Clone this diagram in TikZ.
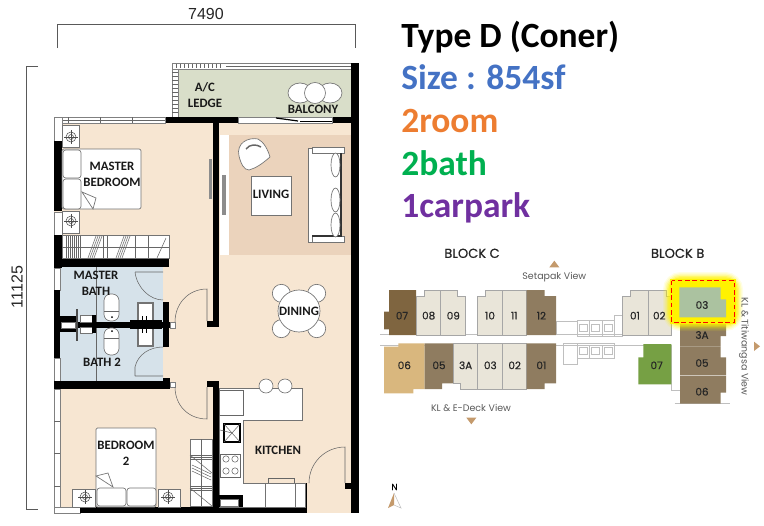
\documentclass[tikz,border=0pt]{standalone}
\usepackage{xcolor}
\usepackage{fontspec}
\setmainfont{Carlito}
\newfontfamily\dimfont{Liberation Sans}
\newfontfamily\mapfont{Poppins}
\newfontfamily\mapboldfont[FakeBold=0.6]{Poppins}
\usetikzlibrary{positioning,calc}

\definecolor{floorcol}{HTML}{F7E6D2}
\definecolor{rugcol}{HTML}{EBD3BC}
\definecolor{bathcol}{HTML}{D6E2EA}
\definecolor{balconycol}{HTML}{D9DEC9}
\definecolor{ltunit}{HTML}{E9E5D9}
\definecolor{midunit}{HTML}{8F7C60}
\definecolor{darkunit}{HTML}{7F6540}
\definecolor{sandunit}{HTML}{D9B77E}
\definecolor{greenunit}{HTML}{76A044}
\definecolor{sageunit}{HTML}{ABC2A0}
\definecolor{viewcol}{HTML}{C49A6C}

\tikzset{
    wall/.style={fill=black},
    fixture/.style={draw=black!55, fill=white, line width=0.5pt},
    thinline/.style={draw=black!60, line width=0.4pt},
    windowbar/.style={draw=black!50, fill=white, line width=0.4pt},
    roomlabel/.style={font=\bfseries\fontsize{9.6}{12}\selectfont, align=center, inner sep=0pt, text=black!90},
    dimlabel/.style={font=\dimfont\fontsize{12}{14}\selectfont, inner sep=0pt, text=black!85},
    dimline/.style={draw=black!65, line width=0.6pt},
    titlelabel/.style={font=\bfseries\fontsize{26.6}{30}\selectfont, anchor=base west, inner sep=0pt},
    blocklabel/.style={font=\mapboldfont\fontsize{9.8}{11}\selectfont, inner sep=0pt, text=black!85},
    unitlabel/.style={font=\mapboldfont\fontsize{7.8}{9}\selectfont, inner sep=0pt, text=black!85},
    viewlabel/.style={font=\mapfont\fontsize{7.1}{8}\selectfont, inner sep=0pt, text=black!65},
    unitedge/.style={draw=black!35, line width=0.4pt},
    mapline/.style={draw=black!25, line width=0.5pt}
}

\begin{document}
\begin{tikzpicture}[x=0.75pt,y=-0.75pt]
    \useasboundingbox (0,0) rectangle (764,525);

    % dimensions
    \draw[dimline] (57,48) -- (57,24) -- (355,24) -- (355,48);
    \draw[dimline] (38,66) -- (26,66) -- (26,509) -- (38,509);
    \node (widthlabel) [dimlabel] at (206,14) {7490};
    \node (depthlabel) [dimlabel, rotate=90] at (17,287) {11125};

    % floors
    \fill[balconycol] (172,63) rectangle (351,117);
    \fill[floorcol] (54,117) rectangle (351,513);
    \fill[rugcol] (229,135) rectangle (351,255);
    \fill[white] (220,135) rectangle (229,255);
    \fill[bathcol] (60,267) rectangle (163,381);
    \draw[thinline] (96,267) -- (96,381);

    % balcony railings
    \draw[windowbar] (172,63) rectangle (351,69);
    \draw[thinline] (226,66) -- (351,66);
    \foreach \x in {176,180,...,222} \draw[thinline] (\x,64) -- (\x,68);
    \draw[windowbar] (172,69) rectangle (178,117);
    \foreach \y in {72,76,...,114} \draw[thinline] (172,\y) -- (178,\y);

    % outer walls
    \fill[wall] (165,117) rectangle (238,123);
    \fill[wall] (298,117) rectangle (351,123);
    \draw[windowbar] (238,117) rectangle (332,123);
    \draw[black, line width=0.9pt] (276,118) -- (298,121);
    \draw[black, line width=0.9pt] (300,121.5) -- (332,121.5);
    \draw[windowbar] (54,117) rectangle (165,123);
    \draw[thinline] (60,120) -- (165,120);
    \foreach \x in {68,100,132} \draw[thinline] (\x,117) -- (\x,123);
    \draw[windowbar] (54,117) rectangle (62,141);
    \fill[wall] (54,141) rectangle (62,211);
    \draw[windowbar] (54,212) rectangle (62,235);
    \fill[wall] (54,235) rectangle (62,268);
    \draw[windowbar] (54,268) rectangle (60,290);
    \fill[wall] (54,290) rectangle (60,322);
    \fill[wall] (54,328) rectangle (60,358);
    \draw[windowbar] (54,358) rectangle (60,381);
    \draw[windowbar] (54,389) rectangle (60,510);
    \foreach \y in {421,453,486} \draw[thinline] (54,\y) -- (60,\y);
    \draw[windowbar] (54,507) rectangle (80,513);
    \fill[wall] (80,507) rectangle (303,513);

    % inner walls
    \fill[wall] (213,123) rectangle (219,327);
    \fill[wall] (207,321) rectangle (219,327);
    \fill[wall] (213,381) rectangle (219,513);
    \fill[wall] (207,381) rectangle (219,387);
    \fill[wall] (54,258) rectangle (169,267);
    \fill[wall] (54,381) rectangle (169,389);
    \fill[wall] (54,322) rectangle (173,328);
    \fill[wall] (163,378) rectangle (170,389);
    \fill[wall] (296,483) rectangle (307,513);
    \fill[wall] (345,483) rectangle (351,489);
    \draw[windowbar] (170,382) rectangle (175,387);
    \draw[windowbar] (170,322) rectangle (175,328);

    % doors
    \draw[thinline] (135,272) -- (163,272) (135,272) .. controls (137,288) and (150,300) .. (163,300);
    \draw[thinline] (135,376) -- (163,376) (135,376) -- (135,367) .. controls (138,354) and (150,347) .. (163,347);
    \draw[thinline] (175,322) .. controls (175,304) and (188,289) .. (207,289) -- (207,321);
    \draw[thinline] (175,387) .. controls (175,405) and (188,419) .. (207,419) -- (207,387);
    \draw[thinline] (309,483) .. controls (309,463) and (325,447) .. (345,447) -- (345,483);

    % master bedroom
    \draw[fixture, rounded corners=1.5pt] (62,149) rectangle (141,209);
    \draw[fixture, rounded corners=2pt] (63,150) rectangle (81,178);
    \draw[fixture, rounded corners=2pt] (63,179) rectangle (81,209);
    \draw[fixture] (82,192) -- (96,198) -- (93,209) -- cycle;
    \draw[fixture] (62,125) rectangle (79,147);
    \draw[fixture] (62,211) rectangle (79,233);
    \draw[fixture] (72,489) rectangle (95,507);
    \draw[fixture] (158,489) rectangle (180,507);
    \foreach \cx/\cy in {71/137, 71/221, 85/497, 168/497} {
        \draw[draw=black!70, line width=0.4pt] (\cx,\cy) circle[radius=5];
        \draw[draw=black!70, line width=0.4pt] (\cx,\cy) circle[radius=2.5];
        \draw[draw=black!70, line width=0.4pt] (\cx-7,\cy) -- (\cx+7,\cy) (\cx,\cy-7) -- (\cx,\cy+7);
    }

    % master wardrobe
    \draw[fixture] (62,235) rectangle (169,258);
    \foreach \x in {66,68,...,80} \draw[thinline] (\x,236) -- (\x,258);
    \foreach \x in {88,90,92,94} \draw[thinline] (\x,258) -- (\x+8,236);
    \foreach \x in {116,118,120,122} \draw[thinline] (\x,258) -- (\x+8,236);
    \foreach \x in {103,107,135,148} \draw[thinline] (\x,236) -- (\x,258);
    \draw[thinline] (157,258) -- (166,238);
    \draw[thinline] (62,247) -- (169,247);

    % living
    \draw[fixture] (251,176) rectangle (291,215);
    \draw[fixture] (308,148) rectangle (341,242);
    \draw[fixture] (312,147) rectangle (344,153);
    \draw[fixture] (312,236) rectangle (344,242);
    \draw[black!80, line width=0.9pt] (312,236) -- (341,236) -- (341,153);
    \foreach \cy in {165,200,225} \draw[fixture] (335.5,\cy) ellipse[x radius=4.5, y radius=12];
    \draw[fixture] (239,156) .. controls (236,143) and (248,137) .. (258,139) .. controls (264,142) and (268,150) .. (270,157) .. controls (262,164) and (256,168) .. (249,170) .. controls (244,170) and (241,164) .. (239,156) -- cycle;
    \draw[black!60, line width=1.1pt] (246,149) .. controls (250,144) and (256,144) .. (261,147);
    \fill[black!45] (209,159) rectangle (212,199);
    \fill[black!45] (222,175) rectangle (226,215);

    % balcony chairs
    \draw[fixture] (300,93) ellipse[x radius=12, y radius=10];
    \draw[fixture] (330,93) ellipse[x radius=12, y radius=10];
    \draw[fixture] (315,93) circle[radius=10.5];

    % dining
    \foreach \ang in {45,135,225,315} \draw[fixture] ($(299,311)+(\ang:25)$) circle[radius=9];
    \draw[fixture] (299,311) circle[radius=21];

    % kitchen
    \draw[fixture] (219,388) -- (302,388) -- (302,420) -- (243,420) -- (243,483) -- (305,483) -- (305,507) -- (219,507) -- cycle;
    \draw[thinline] (219,390) rectangle (243,415);
    \draw[fixture] (265,483) rectangle (295,507);
    \draw[thinline] (268,478) -- (294,478) -- (294,483) (268,478) -- (268,483);
    \foreach \cx in {266,285} \draw[fixture] (\cx,386) circle[radius=7];
    \draw[draw=black, fill=white, line width=0.9pt] (224,424) rectangle (240,442);
    \draw[thinline] (224,424) -- (240,442) (224,442) -- (240,424);
    \draw[thinline] (220,430) -- (232,433);
    \draw[thinline] (220,454) rectangle (240,477);
    \foreach \cx/\cy in {226/459, 235/459, 226/471, 235/471} \draw[thinline] (\cx,\cy) circle[radius=3.2];
    \fill[wall] (219,495) rectangle (243,507);
    \draw[fixture] (220,499) rectangle (238,506);

    % bathrooms
    \draw[fixture, rounded corners=5pt] (104,294) rectangle (119,321);
    \draw[fixture, rounded corners=5pt] (104,328) rectangle (119,355);
    \fill (112,317) circle[radius=1] (112,331) circle[radius=1];
    \draw[thinline] (104,311) -- (119,311) (104,338) -- (119,338);
    \draw[draw=black!55, fill=white, line width=1pt] (138,303) rectangle (153,321);
    \draw[draw=black!55, fill=white, line width=1pt] (138,328) rectangle (153,346);
    \fill[wall] (130,320) rectangle (162,329);
    \foreach \x in {142,146} \draw[black, line width=0.5pt] (\x,316) -- (\x,333);
    \fill[wall] (54,316) rectangle (76,332);
    \draw[fixture] (61,322) rectangle (75,328);
    \draw[fixture] (80,315) rectangle (92,322);
    \draw[fixture] (80,327) rectangle (92,333);
    \fill[wall] (92,315) rectangle (96,333);
    \draw[black!70, line width=0.8pt] (77,309) -- (77,341);

    % bedroom 2
    \draw[fixture, rounded corners=1pt] (96,428) rectangle (156,507);
    \draw[fixture, rounded corners=2pt] (97,488) rectangle (126,506);
    \draw[fixture, rounded corners=2pt] (127,488) rectangle (156,506);
    \draw[fixture] (96,476) -- (108,473) -- (113,487) -- cycle;
    \draw[fixture] (190,439) rectangle (212,506);
    \draw[thinline] (201,439) -- (201,506);
    \draw[thinline] (190,455) -- (212,473) (190,488) -- (212,506);
    \foreach \y in {455,457,459,486,488,490} \draw[thinline] (190,\y) -- (212,\y);
    \foreach \y in {465,468,471} \draw[thinline] (192,\y) -- (211,\y+9);

    % long walls on top
    \fill[wall] (163,302) rectangle (169,347);
    \fill[wall] (351,63) rectangle (359,513);

    % room labels
    \node (acledge) [roomlabel] at (205,95) {A/C\\LEDGE};
    \node (balcony) [roomlabel] at (313,109) {BALCONY};
    \node (masterbed) [roomlabel] at (112,174) {MASTER\\BEDROOM};
    \node (living) [roomlabel] at (271,194) {LIVING};
    \node (dining) [roomlabel] at (299,311) {DINING};
    \node (masterbath) [roomlabel] at (96,283) {MASTER\\BATH};
    \node (bathtwo) [roomlabel] at (102,362) {BATH 2};
    \node (bedroomtwo) [roomlabel] at (126,453) {BEDROOM\\2};
    \node (kitchen) [roomlabel] at (278,450) {KITCHEN};

    % title
    \node (typetext) [titlelabel] at (401,47) {Type D (Coner)};
    \node (sizetext) [titlelabel, text={rgb,255:red,68;green,114;blue,196}] at (401,89) {Size : 854sf};
    \node (roomtext) [titlelabel, text={rgb,255:red,237;green,125;blue,49}] at (401,132) {2room};
    \node (bathtext) [titlelabel, text={rgb,255:red,0;green,176;blue,80}] at (401,175) {2bath};
    \node (parktext) [titlelabel, text={rgb,255:red,112;green,48;blue,160}] at (401,217) {1carpark};

    % block map
    \begin{scope}[shift={(380,240)}, x=0.25pt, y=-0.25pt]
        % corridor and core
        \draw[mapline] (0,283) -- (875,283) (0,315) -- (875,315);
        \draw[mapline] (528,245) rectangle (592,283);
        \draw[mapline] (592,240) rectangle (702,288);
        \draw[mapline] (550,310) rectangle (592,373);
        \draw[mapline] (592,310) rectangle (702,355);
        \foreach \x in {629,666} \draw[mapline] (\x,240) -- (\x,288) (\x,315) -- (\x,355);
        \foreach \x in {610,647,684} {
            \draw[mapline] (\x-12,252) rectangle (\x+12,274);
            \draw[mapline] (\x-12,322) rectangle (\x+12,344);
        }
        \draw[mapline] (702,225) rectangle (726,288);
        \draw[mapline] (875,315) -- (875,452) -- (900,452);
        \draw[mapline] (884,491) -- (1050,491);

        % block c
        \fill[darkunit] (27,150) -- (108,150) -- (108,285) -- (27,285) -- (27,268) -- (12,268) -- (12,215) -- (27,215) -- cycle;
        \filldraw[fill=ltunit, unitedge] (110,168) -- (132,168) -- (132,150) -- (182,150) -- (182,285) -- (110,285) -- cycle;
        \filldraw[fill=ltunit, unitedge] (182,150) -- (232,150) -- (232,168) -- (256,168) -- (256,285) -- (182,285) -- cycle;
        \filldraw[fill=ltunit, unitedge] (293,168) -- (315,168) -- (315,150) -- (367,150) -- (367,285) -- (293,285) -- cycle;
        \filldraw[fill=ltunit, unitedge] (367,150) -- (440,150) -- (440,285) -- (367,285) -- cycle;
        \fill[midunit] (440,150) -- (494,150) -- (494,168) -- (528,168) -- (528,285) -- (440,285) -- cycle;

        \fill[sandunit] (12,320) -- (55,320) -- (55,310) -- (134,310) -- (134,447) -- (100,447) -- (100,460) -- (12,460) -- cycle;
        \fill[midunit] (134,310) -- (220,310) -- (220,430) -- (186,430) -- (186,447) -- (134,447) -- cycle;
        \filldraw[fill=ltunit, unitedge] (220,310) -- (293,310) -- (293,447) -- (242,447) -- (242,430) -- (220,430) -- cycle;
        \filldraw[fill=ltunit, unitedge] (293,310) -- (367,310) -- (367,447) -- (293,447) -- cycle;
        \filldraw[fill=ltunit, unitedge] (367,310) -- (440,310) -- (440,447) -- (367,447) -- cycle;
        \fill[midunit] (440,310) -- (528,310) -- (528,430) -- (494,430) -- (494,447) -- (440,447) -- cycle;

        % block b
        \filldraw[fill=ltunit, unitedge] (726,168) -- (752,168) -- (752,150) -- (804,150) -- (804,285) -- (726,285) -- cycle;
        \filldraw[fill=ltunit, unitedge] (804,150) -- (858,150) -- (858,168) -- (875,168) -- (875,285) -- (804,285) -- cycle;
        \fill[greenunit] (790,312) -- (874,312) -- (874,433) -- (775,433) -- (775,352) -- (790,352) -- cycle;
        \fill[midunit] (900,250) -- (1038,250) -- (1038,288) -- (1022,288) -- (1022,320) -- (900,320) -- cycle;
        \fill[midunit] (900,320) -- (1022,320) -- (1022,352) -- (1038,352) -- (1038,405) -- (900,405) -- cycle;
        \fill[midunit] (900,407) -- (1038,407) -- (1038,458) -- (1022,458) -- (1022,491) -- (900,491) -- cycle;

        % highlight on unit 03
        \foreach \w/\op in {42/0.10, 34/0.15, 26/0.22, 18/0.3, 10/0.5}
            \draw[yellow, opacity=\op, line width=\w*0.25pt, rounded corners=8pt] (870,117) rectangle (1068,252);
        \fill[yellow] (870,117) rectangle (1068,252);
        \fill[sageunit] (898,142) -- (1022,142) -- (1022,178) -- (1038,178) -- (1038,232) -- (898,232) -- cycle;
        \draw[red, line width=0.9pt, dash pattern=on 3.5pt off 2pt] (875,122) rectangle (1063,247);

        % unit numbers
        \node (c07) [unitlabel] at (66,227) {07};
        \node (c08) [unitlabel] at (146,227) {08};
        \node (c09) [unitlabel] at (220,227) {09};
        \node (c10) [unitlabel] at (330,227) {10};
        \node (c11) [unitlabel] at (403,227) {11};
        \node (c12) [unitlabel] at (484,227) {12};
        \node (c06) [unitlabel] at (73,376) {06};
        \node (c05) [unitlabel] at (177,376) {05};
        \node (c3a) [unitlabel] at (257,376) {3A};
        \node (c03) [unitlabel] at (331,376) {03};
        \node (c02) [unitlabel] at (404,376) {02};
        \node (c01) [unitlabel] at (484,376) {01};
        \node (b01) [unitlabel] at (765,227) {01};
        \node (b02) [unitlabel] at (838,227) {02};
        \node (b03) [unitlabel] at (966,195) {03};
        \node (b3a) [unitlabel] at (966,285) {3A};
        \node (b05) [unitlabel] at (966,369) {05};
        \node (b06) [unitlabel] at (966,455) {06};
        \node (b07) [unitlabel] at (830,376) {07};

        % block names and views
        \node (blockc) [blocklabel] at (276,40) {BLOCK C};
        \node (blockb) [blocklabel] at (893,40) {BLOCK B};
        \node (setapak) [viewlabel] at (523,112) {Setapak View};
        \node (deck) [viewlabel] at (273,503) {KL \& E-Deck View};
        \node (titi) [viewlabel, rotate=-90] at (1092,320) {KL \& Titiwangsa View};
        \fill[viewcol] (508,82) -- (538,82) -- (523,62) -- cycle;
        \fill[viewcol] (259,533) -- (289,533) -- (274,553) -- cycle;
        \fill[viewcol] (1122,305) -- (1122,333) -- (1140,319) -- cycle;
    \end{scope}

    % north mark
    \node (north) [font=\mapboldfont\fontsize{6.5}{8}\selectfont, inner sep=0pt] at (394.5,487) {N};
    \fill[viewcol] (394,493) -- (388,508) -- (394,505) -- cycle;
    \draw[black!25, line width=0.4pt] (394,493) -- (401,508) -- (394,505);
\end{tikzpicture}
\end{document}
